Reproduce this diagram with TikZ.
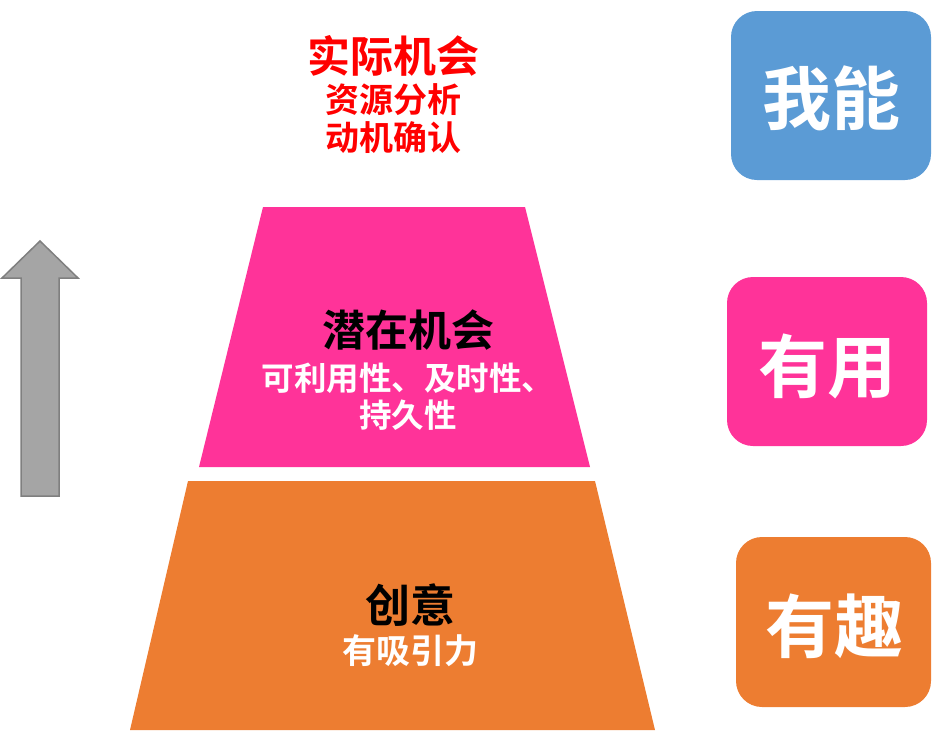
\documentclass[tikz,border=0pt]{standalone}
\usepackage{fontspec}
\newfontfamily\cjk{Noto Sans CJK SC Bold}
\definecolor{myblue}{HTML}{5B9BD5}
\definecolor{mypink}{HTML}{FF3399}
\definecolor{myorange}{HTML}{ED7D31}
\definecolor{mygray}{HTML}{A5A5A5}
\definecolor{mygrayline}{HTML}{7F7F7F}
\begin{document}
\begin{tikzpicture}[x=1pt,y=-1pt,
  big/.style={font=\cjk\fontsize{69}{74}\selectfont, text=white},
  head/.style={font=\cjk\fontsize{43}{46}\selectfont},
  sub/.style={font=\cjk\fontsize{32.5}{37}\selectfont, align=center}]
\useasboundingbox (0,0) rectangle (941,732);
% trapezoids
\fill[mypink] (263,207) -- (525,207) -- (590,467) -- (199,467) -- cycle;
\fill[myorange] (188,481) -- (595,481) -- (655,730) -- (130,730) -- cycle;
% arrow
\draw[fill=mygray, draw=mygrayline, line width=1.5pt, line join=miter]
  (40,241) -- (78,278) -- (59,278) -- (59,496) -- (21,496) -- (21,278) -- (2,278) -- cycle;
% right boxes
\fill[myblue, rounded corners=26pt] (731,11) rectangle (931,180);
\fill[mypink, rounded corners=26pt] (727,277) rectangle (927,446);
\fill[myorange, rounded corners=26pt] (736,537) rectangle (931,707);
\node[big] (neng) at (831,98) {我能};
\node[big] (yong) at (827,366) {有用};
\node[big] (qu) at (834,626) {有趣};
% top texts
\node[head, text=red] (shiji) at (393,56) {实际机会};
\node[sub, text=red, font=\cjk\fontsize{34}{38}\selectfont] (ziyuan) at (393,119) {资源分析\\动机确认};
% middle texts
\node[head, text=black] (qianzai) at (408,330) {潜在机会};
\node[sub, text=white] (keli) at (408,397) {可利用性、及时性、\\持久性};
% bottom texts
\node[head, text=black, font=\cjk\fontsize{45}{48}\selectfont] (chuangyi) at (410,605) {创意};
\node[sub, text=white, font=\cjk\fontsize{34}{37}\selectfont] (xiyin) at (410,651) {有吸引力};
\end{tikzpicture}
\end{document}
